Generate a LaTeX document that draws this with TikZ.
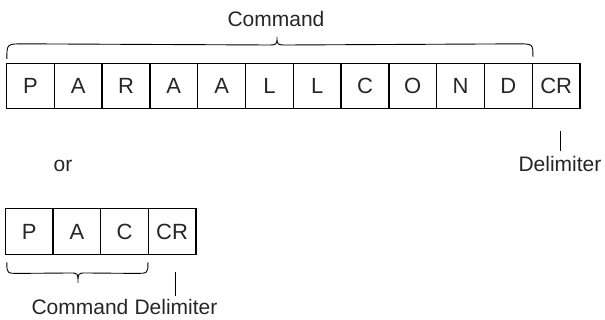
\documentclass[tikz,border=0pt]{standalone}
\usepackage{fontspec}
\setmainfont{Liberation Sans}
\begin{document}
\begin{tikzpicture}[x=1pt,y=1pt,
  cell/.style={draw, line width=1.3pt, minimum width=47.8pt, minimum height=45pt, inner sep=0pt, font=\fontsize{22}{26}\selectfont, text=black!85},
  lbl/.style={inner sep=0pt, font=\fontsize{21}{25}\selectfont, text=black!85},
  thin/.style={line width=0.9pt}]
\useasboundingbox (0,0) rectangle (605,320);
% top row
\foreach \t [count=\i from 0] in {P,A,R,A,A,L,L,C,O,N,D,CR}
  \node[cell] (t\i) at ({6.5+47.8*\i+23.9},234) {\t};
\node[lbl, anchor=base] (cmd) at (276,293.5) {Command};
\node[lbl, anchor=base] (del) at (560,148) {Delimiter};
\node[lbl, anchor=base] (or) at (63,148) {or};
% top brace
\draw[thin] ([xshift=1pt,yshift=4pt]t0.north west) .. controls ([xshift=1pt,yshift=19pt]t0.north west) and ([xshift=1pt,yshift=19pt]t0.north west) .. ([xshift=18pt,yshift=19pt]t0.north west)
  -- (267,275) .. controls (277,275) and (277,275) .. (277,283)
  .. controls (277,275) and (277,275) .. (287,275)
  -- ([xshift=-16pt,yshift=19pt]t10.north east) .. controls ([yshift=19pt]t10.north east) and ([yshift=19pt]t10.north east) .. ([yshift=6pt]t10.north east);
\coordinate (deltop) at ([yshift=26pt]del.north);
\draw[thin] ([yshift=6pt]del.north) -- (deltop);
% bottom row
\foreach \t [count=\i from 0] in {P,A,C,CR}
  \node[cell, minimum width=47.6pt, minimum height=46.5pt] (b\i) at ({5.5+47.6*\i+23.8},88.5) {\t};
\node[lbl, anchor=base] (cmd2) at (80,5) {Command};
\node[lbl, anchor=base] (del2) at (176,5) {Delimiter};
\draw[thin] ([xshift=2pt,yshift=-7pt]b0.south west) .. controls ([xshift=2pt,yshift=-18pt]b0.south west) and ([xshift=2pt,yshift=-18pt]b0.south west) .. ([xshift=14pt,yshift=-18pt]b0.south west)
  -- (70,47) .. controls (78,47) and (78,47) .. (78,37)
  .. controls (78,47) and (78,47) .. (86,47)
  -- ([xshift=-14pt,yshift=-18pt]b2.south east) .. controls ([xshift=-1pt,yshift=-18pt]b2.south east) and ([xshift=-1pt,yshift=-18pt]b2.south east) .. ([xshift=-1pt,yshift=-7pt]b2.south east);
\coordinate (del2top) at ([yshift=28pt]del2.north -| 175,0);
\draw[thin] ([yshift=4pt]del2.north -| 175,0) -- (del2top);
\end{tikzpicture}
\end{document}
